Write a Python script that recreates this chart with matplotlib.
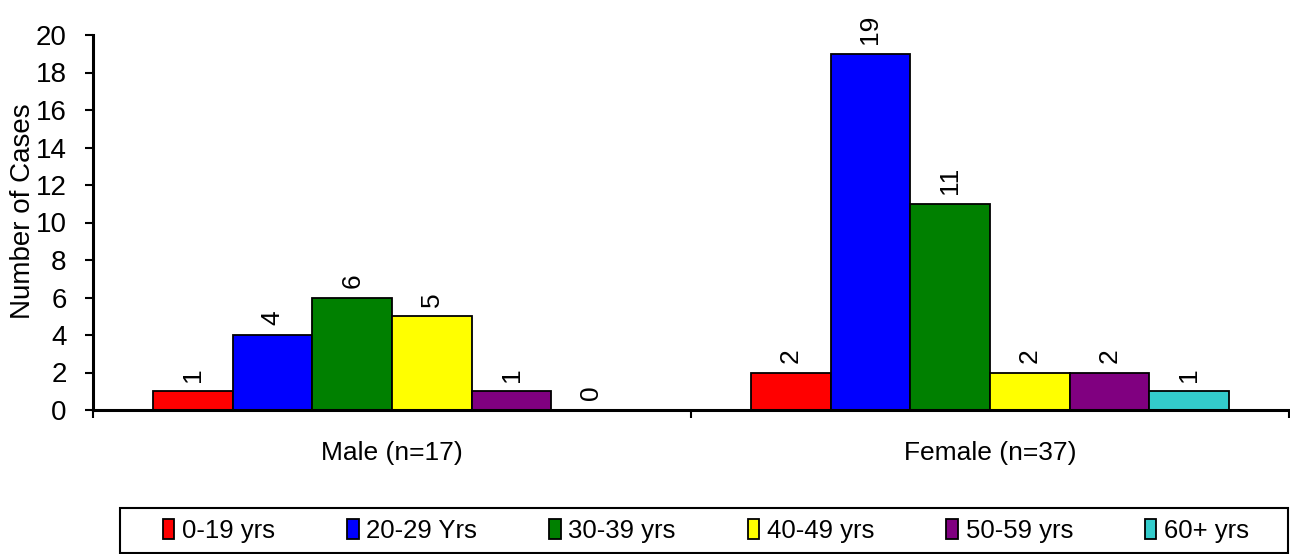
import numpy as np
import matplotlib.pyplot as plt
from matplotlib import font_manager
from matplotlib.patches import Rectangle

groups = ['Male (n=17)', 'Female (n=37)']
age_labels = ['0-19 yrs', '20-29 Yrs', '30-39 yrs', '40-49 yrs', '50-59 yrs', '60+ yrs']
male = [1, 4, 6, 5, 1, 0]
female = [2, 19, 11, 2, 2, 1]
colors = ['#ff0000', '#0000ff', '#008000', '#ffff00', '#800080', '#33cccc']

names = {f.name for f in font_manager.fontManager.ttflist}
narrow = 'Liberation Sans Narrow' if 'Liberation Sans Narrow' in names else 'Liberation Sans'
plt.rcParams['font.family'] = ['Liberation Sans', 'DejaVu Sans']

fig = plt.figure(figsize=(12.9, 5.54), dpi=100)
ax = fig.add_axes([93/1290, 1-410/554, (1289-93)/1290, (410-35)/554])

x = np.arange(len(groups))
w = 0.8 / len(age_labels)
for i, lab in enumerate(age_labels):
    vals = [male[i], female[i]]
    pos = x - 0.4 + w*(i+0.5)
    ax.bar(pos, vals, width=w, color=colors[i], edgecolor='black',
           linewidth=1.3, label=lab)
    for xp, v in zip(pos, vals):
        ax.annotate(str(v), (xp, v), xytext=(0, 7), textcoords='offset points',
                    rotation=90, ha='center', va='bottom', fontsize=19)

ax.set_xlim(-0.5, 1.5)
ax.set_ylim(0, 20)
ax.set_yticks(range(0, 21, 2))
ax.tick_params(axis='y', labelsize=20, width=1.5, length=6, direction='out', pad=13)
ax.set_xticks(x)
ax.set_xticklabels(groups, fontsize=19)
ax.tick_params(axis='x', length=0, pad=22)
ax.set_xticks([-0.5, 0.5, 1.5], minor=True)
ax.tick_params(axis='x', which='minor', length=6, width=1.5)
ax.set_ylabel('Number of Cases', fontsize=20)
ax.yaxis.set_label_coords(-57/1196, 0.53)
for s in ['top', 'right']:
    ax.spines[s].set_visible(False)
for s in ['left', 'bottom']:
    ax.spines[s].set_linewidth(2.2)

fig.patches.append(Rectangle((120/1290, 1/554), 1168/1290, 45/554, transform=fig.transFigure,
                             fill=False, edgecolor='black', linewidth=1.5))
leg = fig.legend(loc='center', ncol=6, bbox_to_anchor=(706/1290, 1-531/554),
                 frameon=False, prop={'family': narrow, 'size': 18.5},
                 handlelength=0.45, handleheight=0.8, handletextpad=0.3,
                 columnspacing=2.8)
for h in leg.legend_handles:
    h.set_linewidth(1.3)

fig.savefig('out.png', dpi=100)
